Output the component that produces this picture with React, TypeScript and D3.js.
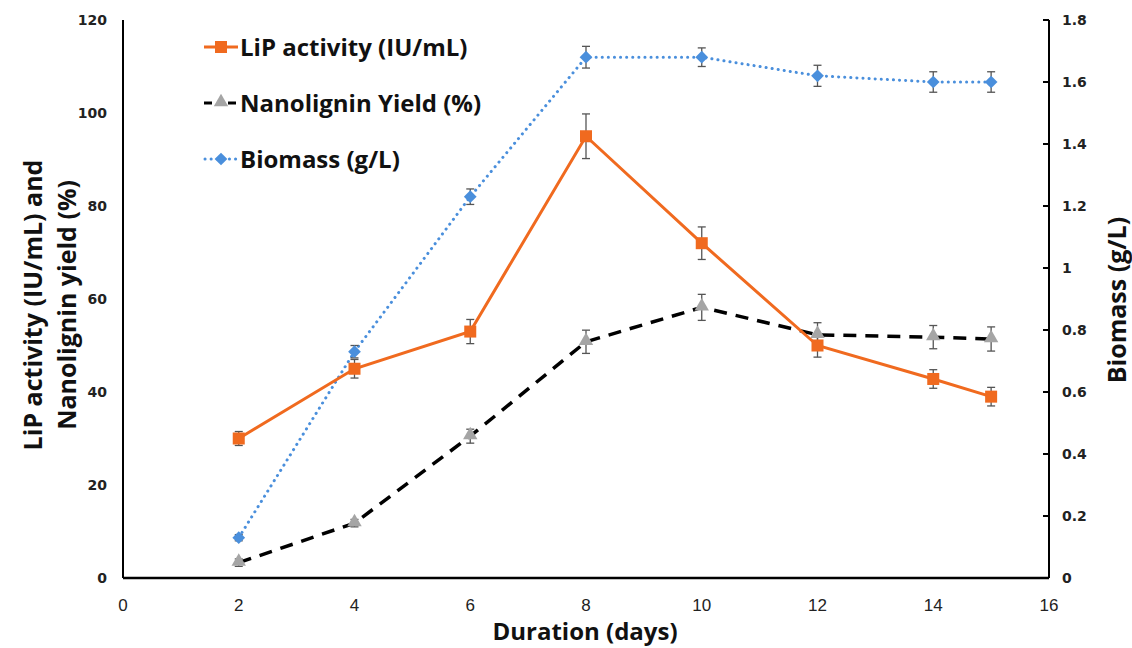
import React from 'react'
import * as d3 from 'd3'

const days = [2, 4, 6, 8, 10, 12, 14, 15]
const lipActivity = [30, 45, 53, 95, 72, 50, 42.8, 39]
const lipError = [1.5, 2, 2.6, 4.8, 3.5, 2.5, 2, 2]
const nanoYield = [3.3, 11.8, 30.5, 50.8, 58.2, 52.3, 51.8, 51.4]
const nanoError = [0.8, 0.8, 1.5, 2.5, 2.8, 2.6, 2.5, 2.6]
const biomass = [0.13, 0.73, 1.23, 1.68, 1.68, 1.62, 1.6, 1.6]
const biomassError = [0.01, 0.02, 0.025, 0.035, 0.03, 0.034, 0.033, 0.033]

const xTicks = [0, 2, 4, 6, 8, 10, 12, 14, 16]
const leftTicks = [0, 20, 40, 60, 80, 100, 120]
const rightTicks = [0, 0.2, 0.4, 0.6, 0.8, 1, 1.2, 1.4, 1.6, 1.8]

const legendItems = [
  { label: 'LiP activity (IU/mL)', key: 'lip' },
  { label: 'Nanolignin Yield (%)', key: 'nano' },
  { label: 'Biomass (g/L)', key: 'bio' },
]

const W = 1132
const H = 648
const left = 123
const right = 1049
const top = 20
const bottom = 578

const ORANGE = '#f06a1f'
const BLUE = '#4a8fdc'
const GRAY = '#a5a5a5'
const ERR = '#555'

const x = d3.scaleLinear().domain([0, 16]).range([left, right])
const yL = d3.scaleLinear().domain([0, 120]).range([bottom, top])
const yR = d3.scaleLinear().domain([0, 1.8]).range([bottom, top])

function marker(kind: string, cx: number, cy: number, k: number) {
  if (kind === 'lip') {
    return <rect key={k} x={cx - 6} y={cy - 6} width={12} height={12} fill={ORANGE} />
  }
  if (kind === 'nano') {
    const p = d3.symbol().type(d3.symbolTriangle).size(90)()
    return <path key={k} d={p || ''} transform={`translate(${cx},${cy - 1})`} fill={GRAY} />
  }
  return <rect key={k} x={cx - 4.5} y={cy - 4.5} width={9} height={9} fill={BLUE} transform={`rotate(45 ${cx} ${cy})`} />
}

function errorBars(vals: number[], errs: number[], scale: d3.ScaleLinear<number, number>) {
  return days.map((d, i) => {
    const cx = x(d)
    const y1 = scale(vals[i] + errs[i])
    const y2 = scale(vals[i] - errs[i])
    return (
      <g key={i} stroke={ERR} strokeWidth={1.3}>
        <line x1={cx} x2={cx} y1={y1} y2={y2} />
        <line x1={cx - 4} x2={cx + 4} y1={y1} y2={y1} />
        <line x1={cx - 4} x2={cx + 4} y1={y2} y2={y2} />
      </g>
    )
  })
}

export default function App() {
  const lipLine = d3.line<number>().x((_, i) => x(days[i])).y((v) => yL(v))(lipActivity) || ''
  const nanoLine = d3.line<number>().x((_, i) => x(days[i])).y((v) => yL(v))(nanoYield) || ''
  const bioLine = d3.line<number>().x((_, i) => x(days[i])).y((v) => yR(v))(biomass) || ''

  return (
    <svg width={W} height={H} style={{ position: 'absolute', left: 0, top: 0, background: '#fff' }}>
      {/* axes */}
      <line x1={left} x2={left} y1={top} y2={bottom} stroke="#000" strokeWidth={2} />
      <line x1={left} x2={right} y1={bottom} y2={bottom} stroke="#000" strokeWidth={2.5} />
      <line x1={right} x2={right} y1={top} y2={bottom} stroke="#000" strokeWidth={2} />
      {rightTicks.map((t) => (
        <line key={t} x1={right - 6} x2={right} y1={yR(t)} y2={yR(t)} stroke="#000" strokeWidth={2} />
      ))}

      {/* tick labels */}
      <g fontFamily="'DejaVu Sans', sans-serif" fontSize={14} fontWeight="bold" fill="#222">
        {leftTicks.map((t) => (
          <text key={t} x={107} y={yL(t) + 5} textAnchor="end">{t}</text>
        ))}
        {rightTicks.map((t) => (
          <text key={t} x={1062} y={yR(t) + 5}>{d3.format('~g')(t)}</text>
        ))}
      </g>
      <g fontFamily="'Liberation Sans Narrow', 'Liberation Sans', sans-serif" fontSize={17} fill="#222">
        {xTicks.map((t) => (
          <text key={t} x={x(t)} y={611} textAnchor="middle">{t}</text>
        ))}
      </g>

      {/* axis titles */}
      <text x={585} y={640} textAnchor="middle" fontFamily="'Open Sans', sans-serif" fontWeight="bold" fontSize={24} fill="#111">
        Duration (days)
      </text>
      <g fontFamily="'Open Sans', sans-serif" fontWeight="bold" fontSize={25} fill="#111">
        <text transform="translate(42,305) rotate(-90)" textAnchor="middle">LiP activity (IU/mL) and</text>
        <text transform="translate(76,305) rotate(-90)" textAnchor="middle">Nanolignin yield (%)</text>
        <text transform="translate(1126,300) rotate(-90)" textAnchor="middle">Biomass (g/L)</text>
      </g>

      {/* series */}
      <path d={bioLine} fill="none" stroke={BLUE} strokeWidth={3} strokeDasharray="0.1 6" strokeLinecap="round" />
      <path d={nanoLine} fill="none" stroke="#000" strokeWidth={3.5} strokeDasharray="13 9" />
      <path d={lipLine} fill="none" stroke={ORANGE} strokeWidth={3} />

      {errorBars(biomass, biomassError, yR)}
      {errorBars(nanoYield, nanoError, yL)}
      {errorBars(lipActivity, lipError, yL)}

      {days.map((d, i) => marker('bio', x(d), yR(biomass[i]), i))}
      {days.map((d, i) => marker('nano', x(d), yL(nanoYield[i]), i))}
      {days.map((d, i) => marker('lip', x(d), yL(lipActivity[i]), i))}

      {/* legend */}
      {legendItems.map((it, i) => {
        const ly = 47 + i * 56
        return (
          <g key={it.key}>
            {it.key === 'lip' && <line x1={204} x2={238} y1={ly} y2={ly} stroke={ORANGE} strokeWidth={3} />}
            {it.key === 'nano' && (
              <>
                <line x1={204} x2={212} y1={ly} y2={ly} stroke="#000" strokeWidth={3} />
                <line x1={228} x2={236} y1={ly} y2={ly} stroke="#000" strokeWidth={3} />
              </>
            )}
            {it.key === 'bio' && (
              <line x1={205} x2={238} y1={ly} y2={ly} stroke={BLUE} strokeWidth={3} strokeDasharray="0.1 6" strokeLinecap="round" />
            )}
            {marker(it.key, 221, ly, i)}
            <text x={240} y={ly + 9} fontFamily="'Open Sans', sans-serif" fontWeight="bold" fontSize={24} fill="#111">
              {it.label}
            </text>
          </g>
        )
      })}
    </svg>
  )
}
